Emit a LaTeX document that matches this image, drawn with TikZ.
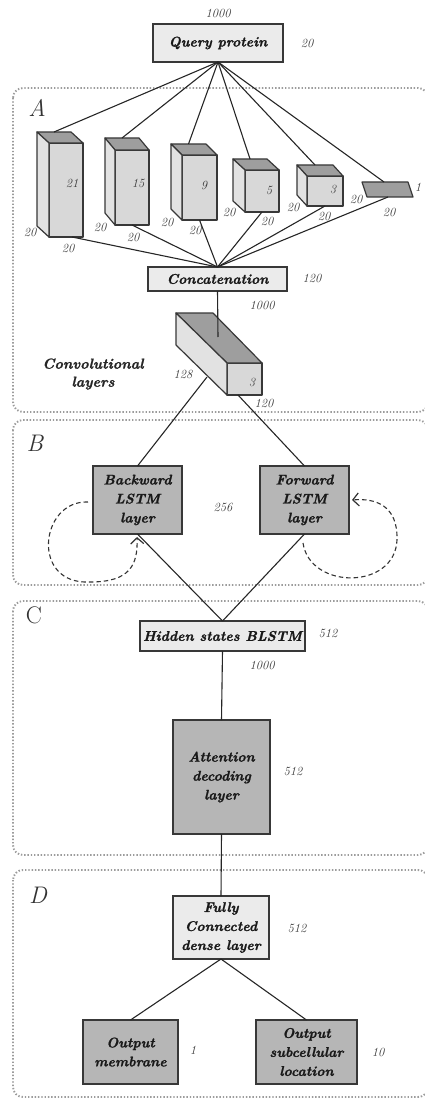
\documentclass[tikz,border=0pt]{standalone}
\usepackage{fontspec}
\setmainfont{Latin Modern Roman}[BoldItalicFeatures={FakeBold=1.3}]
\usetikzlibrary{arrows.meta,calc}

\definecolor{boxlight}{HTML}{EBEBEB}
\definecolor{boxmid}{HTML}{B6B6B6}
\definecolor{facetop}{HTML}{9E9E9E}
\definecolor{faceside}{HTML}{E2E2E2}
\definecolor{facefront}{HTML}{D8D8D8}
\definecolor{edge}{HTML}{383838}
\definecolor{regionline}{HTML}{9C9C9C}
\definecolor{dimtext}{HTML}{3A3A3A}

\tikzset{
  layer/.style={draw=edge, line width=1.4pt, inner sep=0pt, outer sep=0pt, align=center,
    font=\fontsize{14}{19}\selectfont\bfseries\itshape, text=black!90},
  lightbox/.style={layer, fill=boxlight},
  darkbox/.style={layer, fill=boxmid},
  dim/.style={font=\fontsize{12.5}{13}\selectfont\itshape, text=dimtext, inner sep=0pt},
  region/.style={draw=regionline, line width=1.9pt, dash pattern=on 1.4pt off 1.9pt, rounded corners=10pt},
  regionlabel/.style={font=\fontsize{24}{24}\selectfont, text=black!80, inner sep=0pt},
  conn/.style={draw=black!85, line width=1.1pt},
  face/.style={draw=edge, line width=1.2pt, line join=round},
  recur/.style={draw=black!80, line width=1.1pt, dash pattern=on 4.5pt off 3pt,
    -{Straight Barb[length=6pt,width=13pt,line width=1.2pt]}},
}

% front face as a named node, plus top and left faces shifted by (#6,#7)
\newcommand\drawcuboid[7]{%
  \node[face, fill=facefront, minimum width=#4pt, minimum height=#5pt, inner sep=0pt, outer sep=0pt] (#1) at (#2,#3) {};
  \draw[face, fill=facetop] (#1.north west) -- (#1.north east) -- ($(#1.north east)+(#6,#7)$)
    -- ($(#1.north west)+(#6,#7)$) -- cycle;
  \draw[face, fill=faceside] (#1.north west) -- ($(#1.north west)+(#6,#7)$)
    -- ($(#1.south west)+(#6,#7)$) -- (#1.south west) -- cycle;
  \coordinate (#1-top) at ($(#1.north)+(#6,#7)$);
}

\begin{document}
\begin{tikzpicture}[x=1pt,y=-1pt]
\useasboundingbox (0,0) rectangle (425,1099);

% section frames
\draw[region] (13,88) rectangle (428,412);
\draw[region] (13,420) rectangle (428,585);
\draw[region] (13,601) rectangle (428,855);
\draw[region] (13,870) rectangle (428,1097);

\node[regionlabel, font=\fontsize{24}{24}\selectfont\itshape] (labA) at (37,108) {A};
\node[regionlabel, font=\fontsize{24}{24}\selectfont\itshape] (labB) at (35,443) {B};
\node[regionlabel] (labC) at (34,615) {C};
\node[regionlabel, font=\fontsize{24}{24}\selectfont\itshape] (labD) at (38,895) {D};

% input
\node[lightbox, minimum width=130pt, minimum height=38pt] (query) at (218,43) {Query protein};
\node[dim] (q1) at (218,13) {1000};
\node[dim] (q2) at (307,43) {20};

% convolution filters
\drawcuboid{k21}{66}{190}{34}{94}{-12}{-11}
\drawcuboid{k15}{132}{187.5}{34}{75}{-10}{-12}
\drawcuboid{k9}{199.5}{187.5}{35}{65}{-11}{-11}
\drawcuboid{k5}{262}{191}{34}{42}{-12}{-11}
\drawcuboid{k3}{325}{191}{36}{30}{-10}{-11}

% flat kernel of width 1
\coordinate (s1) at (362,182);
\coordinate (s2) at (408,182);
\coordinate (s3) at (413,197);
\coordinate (s4) at (367,197);
\draw[face, fill=facetop] (s1) -- (s2) -- (s3) -- (s4) -- cycle;
\coordinate (k1-top) at (384,182);
\coordinate (k1-bot) at (388,197);

\node[dim] (w21) at (72,183) {21};
\node[dim] (w15) at (138,183) {15};
\node[dim] (w9) at (204,185) {9};
\node[dim] (w5) at (269,190) {5};
\node[dim] (w3) at (333,189) {3};
\node[dim] (w1) at (418,187) {1};

\node[dim] (a1) at (30,232) {20};
\node[dim] (b1) at (68,248) {20};
\node[dim] (a2) at (100,227) {20};
\node[dim] (b2) at (133,237) {20};
\node[dim] (a3) at (167,222) {20};
\node[dim] (b3) at (195,230) {20};
\node[dim] (a4) at (229,212) {20};
\node[dim] (b4) at (267,221) {20};
\node[dim] (a5) at (293,207) {20};
\node[dim] (b5) at (324,216) {20};
\node[dim] (a6) at (356,199) {20};
\node[dim] (b6) at (389,212) {20};

\foreach \k in {k21,k15,k9,k5,k3,k1}
  \draw[conn] (query.south) -- (\k-top);

% concatenation
\node[lightbox, minimum width=139pt, minimum height=24pt] (concat) at (217.5,279) {Concatenation};
\node[dim] (c1) at (312,278) {120};
\node[dim] (c2) at (262,305) {1000};

\draw[conn] (k21.south) ++(6,0) -- (concat.north);
\foreach \k in {k15,k9,k5,k3}
  \draw[conn] (\k.south) -- (concat.north);
\draw[conn] (k1-bot) -- (concat.north);

% convolutional output block
\coordinate (t1) at (176,313);
\coordinate (t2) at (213,313);
\coordinate (t3) at (262,363);
\coordinate (t4) at (227,363);
\coordinate (t5) at (176,345);
\node[face, fill=facefront, minimum width=35pt, minimum height=32pt, inner sep=0pt, outer sep=0pt] (block) at (244.5,379) {};
\draw[face, fill=facetop] (t1) -- (t2) -- (t3) -- (t4) -- cycle;
\draw[face, fill=faceside] (t1) -- (t4) -- (block.south west) -- (t5) -- cycle;
\coordinate (blocktop) at (218,337);
\coordinate (blockL) at (207,377);
\coordinate (blockR) at (238,395);
\draw[conn] (concat.south) -- (blocktop);

\node[dim] (bl1) at (252,382) {3};
\node[dim] (bl2) at (183,374) {128};
\node[dim] (bl3) at (264,403) {120};
\node[font=\fontsize{14.5}{18}\selectfont\bfseries\itshape, text=black!85, align=center, inner sep=0pt]
  (convlab) at (93,374) {Convolutional\\layers};

% bidirectional LSTM
\node[darkbox, minimum width=89pt, minimum height=68pt] (bwd) at (137.5,500) {Backward\\LSTM\\layer};
\node[darkbox, minimum width=89pt, minimum height=68pt] (fwd) at (304.5,500) {Forward\\LSTM\\layer};
\node[dim] (h256) at (223,507) {256};

\draw[conn] (blockL) -- (bwd.north);
\draw[conn] (blockR) -- (fwd.north);

\coordinate (bwdloop) at (88,502);
\coordinate (bwdend) at (137,537);
\coordinate (fwdloop) at (303,543);
\coordinate (fwdend) at (352,500);
\draw[recur] (bwdloop) .. controls (40,500) and (30,585) .. (90,582)
  .. controls (130,582) and (138,565) .. (bwdend);
\draw[recur] (fwdloop) .. controls (310,590) and (395,590) .. (397,540)
  .. controls (398,505) and (375,498) .. (fwdend);

% hidden states and attention
\node[lightbox, minimum width=165pt, minimum height=30pt] (hidden) at (222.5,636) {Hidden states BLSTM};
\node[dim] (hs1) at (328,633) {512};
\node[dim] (hs2) at (262,665) {1000};
\draw[conn] (bwd.south) -- (hidden.north);
\draw[conn] (fwd.south) -- (hidden.north);

\node[darkbox, minimum width=97pt, minimum height=114pt] (attn) at (221.5,777) {Attention\\decoding\\layer};
\node[dim] (at1) at (293,771) {512};
\draw[conn] (hidden.south) -- (attn.north);

% dense layer and outputs
\node[lightbox, minimum width=96pt, minimum height=63pt] (dense) at (221,927.5) {Fully\\Connected\\dense layer};
\node[dim] (de1) at (297,928) {512};
\draw[conn] (attn.south) -- (dense.north);

\node[darkbox, minimum width=95pt, minimum height=64pt] (outm) at (130.5,1052) {Output\\membrane};
\node[darkbox, minimum width=101pt, minimum height=64pt] (outs) at (306.5,1052) {Output\\subcellular\\location};
\node[dim] (om1) at (193,1050) {1};
\node[dim] (os1) at (378,1052) {10};
\draw[conn] (dense.south) -- (outm.north);
\draw[conn] (dense.south) -- (outs.north);
\end{tikzpicture}
\end{document}
